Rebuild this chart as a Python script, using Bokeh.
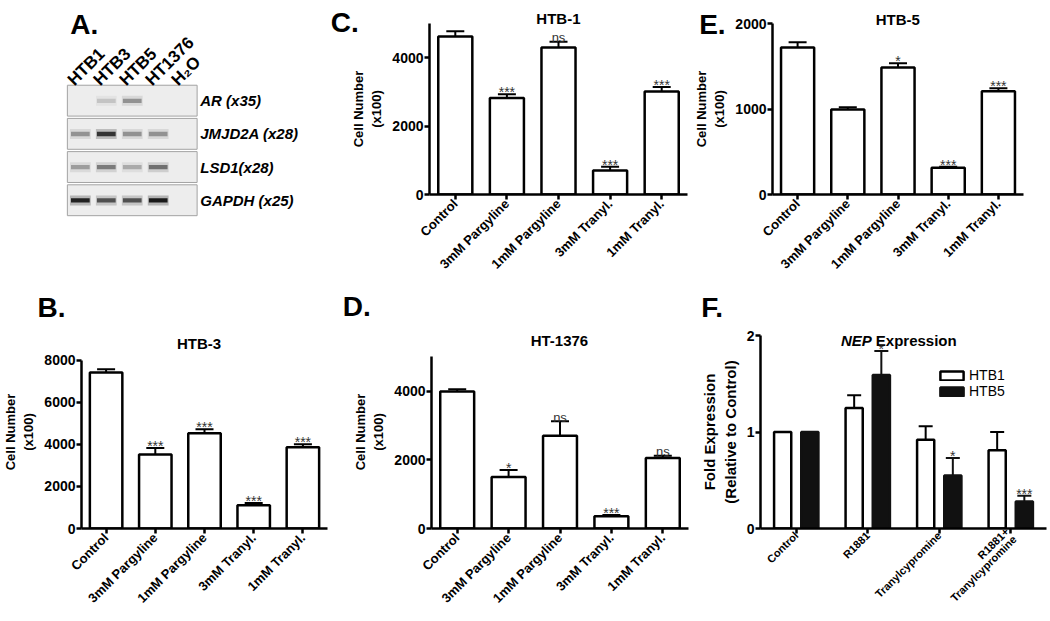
import math
from bokeh.plotting import figure
from bokeh.models import (ColumnDataSource, FactorRange, Range1d, Whisker, TeeHead,
                          Label, Legend, LegendItem, FixedTicker, Spacer)
from bokeh.layouts import row, column
from bokeh.transform import dodge
from bokeh.core.properties import value
from bokeh.embed import file_html
from bokeh.resources import INLINE

# ---------------- DATA ----------------
treatments = ["Control", "3mM Pargyline", "1mM Pargyline", "3mM Tranyl.", "1mM Tranyl."]

htb1_cells = [4620, 2820, 4300, 700, 3010]
htb1_err = [150, 110, 170, 110, 130]
htb1_sig = ["", "***", "ns", "***", "***"]

htb5_cells = [1720, 995, 1485, 312, 1208]
htb5_err = [60, 25, 50, 12, 35]
htb5_sig = ["", "", "*", "***", "***"]

htb3_cells = [7410, 3510, 4520, 1110, 3855]
htb3_err = [150, 310, 190, 100, 150]
htb3_sig = ["", "***", "***", "***", "***"]

ht1376_cells = [3990, 1500, 2700, 360, 2050]
ht1376_err = [60, 200, 420, 30, 70]
ht1376_sig = ["", "*", "ns", "***", "ns"]

nep_conditions = ["Control", "R1881", "Tranylcypromine", "R1881+\nTranylcypromine"]
nep_htb1 = [1.0, 1.25, 0.92, 0.81]
nep_htb1_err = [0.0, 0.13, 0.14, 0.19]
nep_htb5 = [1.0, 1.59, 0.55, 0.28]
nep_htb5_err = [0.0, 0.25, 0.18, 0.06]
nep_htb5_sig = ["", "*", "*", "***"]

gel_lanes = ["HTB1", "HTB3", "HTB5", "HT1376", "H\u2082O"]
gel_genes = ["AR (x35)", "JMJD2A (x28)", "LSD1(x28)", "GAPDH (x25)"]
gel_AR = [0.0, 0.15, 0.35, 0.0, 0.0]
gel_JMJD2A = [0.35, 0.8, 0.35, 0.35, 0.0]
gel_LSD1 = [0.3, 0.45, 0.25, 0.5, 0.0]
gel_GAPDH = [0.9, 0.65, 0.65, 0.95, 0.0]

# ---------------- LAYOUT HELPERS ----------------
FONT = "Liberation Sans"
REF_W, REF_H = 1050.0, 621.0
SX = 1048 / REF_W
SY = 619 / REF_H
TOP_H = 281  # height of the top row (reference px)


def sx(v):
    return int(round(v * SX))


def sy(v):
    return int(round(v * SY))


def make_panel(box, frame, xr, yr):
    x0, y0, x1, y1 = box
    fl, ft, fr, fb = frame
    p = figure(width=sx(x1) - sx(x0), height=sy(y1) - sy(y0), x_range=xr, y_range=yr,
               min_border_left=sx(fl) - sx(x0), min_border_right=sx(x1) - sx(fr),
               min_border_top=sy(ft) - sy(y0), min_border_bottom=sy(y1) - sy(fb),
               output_backend="svg", toolbar_location=None,
               background_fill_color=None, border_fill_color=None)
    p.outline_line_color = None
    p.grid.visible = False
    return p


def style_axes(p, ylabel, ylabel_size, ticks, ybounds, xlab_size="13px"):
    for ax in p.axis:
        ax.axis_line_width = 2.5
        ax.axis_line_color = "black"
        ax.major_tick_line_width = 2.5
        ax.major_tick_line_color = "black"
        ax.major_tick_in = 0
        ax.major_tick_out = 5
        ax.minor_tick_line_color = None
        ax.major_label_text_font = FONT
        ax.major_label_text_font_style = "bold"
        ax.major_label_text_color = "black"
        ax.axis_label_text_font = FONT
        ax.axis_label_text_font_style = "bold"
        ax.axis_label_text_color = "black"
    p.yaxis.major_label_text_font_size = "14px"
    p.xaxis.major_label_text_font_size = xlab_size
    p.xaxis.major_label_orientation = math.pi / 4
    p.xaxis.major_label_standoff = 2
    p.yaxis.major_label_standoff = 1
    p.yaxis.ticker = FixedTicker(ticks=ticks)
    p.yaxis.bounds = ybounds
    p.yaxis.axis_label = ylabel
    p.yaxis.axis_label_text_font_size = ylabel_size
    p.yaxis.axis_label_standoff = 5


def add_sig(p, xs, ys, sig, xspec=None):
    stars = dict(x=[], y=[], t=[])
    ns = dict(x=[], y=[], t=[])
    for x, y, s in zip(xs, ys, sig):
        if not s:
            continue
        d = stars if s.startswith("*") else ns
        d["x"].append(x)
        d["y"].append(y)
        d["t"].append(s)
    for d, off, size in ((stars, -2, "14px"), (ns, -4, "13px")):
        if d["t"]:
            p.text(x="x" if xspec is None else xspec, y="y", text="t",
                   source=ColumnDataSource(d), text_align="center",
                   text_baseline="alphabetic", y_offset=off,
                   text_font=value(FONT), text_font_size=size, text_color="#333333")


def bar_panel(box, frame, axis_top, ymax, ticks, vals, errs, sig):
    fl, ft, fr, fb = frame
    y_end = ymax * (fb - ft) / (fb - axis_top)
    xr = FactorRange(factors=treatments, range_padding=0)
    p = make_panel(box, frame, xr, Range1d(0, y_end))
    upper = [v + e for v, e in zip(vals, errs)]
    src = ColumnDataSource(dict(cat=treatments, val=vals, upper=upper))
    p.vbar(x="cat", top="val", width=0.66, source=src, fill_color="white",
           line_color="black", line_width=2.5)
    p.add_layout(Whisker(source=src, base="cat", upper="upper", lower="val",
                         dimension="height", line_width=2, line_color="black",
                         upper_head=TeeHead(size=sx(18), line_width=2, line_color="black"),
                         lower_head=None))
    add_sig(p, treatments, upper, sig)
    style_axes(p, "Cell Number\n(x100)", "13px", ticks, (0, ymax))
    return p


# ---------------- UNDERLAY: gel, panel letters, titles ----------------
under = figure(width=sx(REF_W), height=sy(REF_H), x_range=Range1d(0, REF_W),
               y_range=Range1d(REF_H, 0), min_border=0,
               x_axis_location=None, y_axis_location=None,
               output_backend="svg", toolbar_location=None,
               background_fill_color="white", border_fill_color="white")
under.outline_line_color = None
under.grid.visible = False

LANE, ROW = 26.0, 33.3          # gel lane / row pitch (reference px)
GX0, GY0 = 67.0, 85.0           # gel top-left (reference px)
under.extra_x_ranges = {"gel": Range1d(-GX0 / LANE, (REF_W - GX0) / LANE)}
under.extra_y_ranges = {"gel": Range1d((REF_H - GY0) / ROW, -GY0 / ROW)}
G = dict(x_range_name="gel", y_range_name="gel")

nrow, nlane = len(gel_genes), len(gel_lanes)
under.rect(x=[nlane / 2] * nrow, y=[i + 0.465 for i in range(nrow)], width=nlane, height=0.93,
           fill_color="#ededed", line_color="#a3a3a3", line_width=1, **G)
band_rows = [gel_AR, gel_JMJD2A, gel_LSD1, gel_GAPDH]
bx, by, ba, bh = [], [], [], []
for r, inten in enumerate(band_rows):
    for l, v in enumerate(inten):
        if v > 0:
            bx.append(l + 0.5)
            by.append(r + 0.47)
            ba.append(v)
            bh.append(0.3 * v)
under.rect(x=bx, y=by, width=0.8, height=0.3, fill_color="#222222", fill_alpha=bh,
           line_color=None, **G)
under.rect(x=bx, y=by, width=0.72, height=0.13, fill_color="#111111", fill_alpha=ba,
           line_color=None, **G)
under.text(x=[l + 0.12 for l in range(nlane)], y=[-0.08] * nlane, text=gel_lanes,
           angle=math.pi / 4, text_align="left", text_baseline="alphabetic",
           text_font=value(FONT), text_font_size="17px", text_font_style="bold",
           text_color="black", **G)
under.text(x=[nlane + 0.12] * nrow, y=[i + 0.465 for i in range(nrow)], text=gel_genes,
           text_align="left", text_baseline="middle", text_font=value(FONT),
           text_font_size="15px", text_font_style="bold italic", text_color="black", **G)


def ulabel(x, y, text, size, style="bold", align="left"):
    under.add_layout(Label(x=x, y=y, text=text, text_font=FONT, text_font_size=size,
                           text_font_style=style, text_align=align,
                           text_baseline="alphabetic", text_color="black"))


for letter, lx, ly in (("A.", 70, 24), ("C.", 331, 22), ("E.", 700, 24),
                       ("B.", 37, 308), ("D.", 343, 307), ("F.", 702, 308)):
    ulabel(lx, ly, letter, "28px")
for ttl, tx, ty in (("HTB-1", 559, 18), ("HTB-5", 899, 19), ("HTB-3", 199, 344),
                    ("HT-1376", 560, 341)):
    ulabel(tx, ty, ttl, "15px", align="center")
ulabel(873, 341, "NEP", "15px", style="bold italic", align="right")
ulabel(877, 341, "Expression", "15px", align="left")

# ---------------- PANELS C, E (top row) ----------------
pc = bar_panel((330, 0, 692, TOP_H), (430, 23, 688, 195), 23, 5000, [0, 2000, 4000],
               htb1_cells, htb1_err, htb1_sig)
pe = bar_panel((692, 0, 1050, TOP_H), (767, 23, 1025, 195), 23, 2000, [0, 1000, 2000],
               htb5_cells, htb5_err, htb5_sig)

# ---------------- PANELS B, D (bottom row) ----------------
BT, BB = 336, 530   # shared frame top / bottom of the bottom row (reference px)
pb = bar_panel((0, TOP_H, 340, 621), (70, BT, 328, BB), 360.7, 8000,
               [0, 2000, 4000, 6000, 8000], htb3_cells, htb3_err, htb3_sig)
pd = bar_panel((340, TOP_H, 692, 621), (431.7, BT, 689, BB), 357.3, 5000,
               [0, 2000, 4000], ht1376_cells, ht1376_err, ht1376_sig)

# ---------------- PANEL F ----------------
F_BOX = (692, TOP_H, 1050, 621)
F_FRAME = (761.7, BT, 1048, BB)
xrf = FactorRange(factors=nep_conditions, range_padding=0)
pf = make_panel(F_BOX, F_FRAME, xrf, Range1d(0, 2))
up1 = [v + e for v, e in zip(nep_htb1, nep_htb1_err)]
lo1 = [v - e for v, e in zip(nep_htb1, nep_htb1_err)]
up5 = [v + e for v, e in zip(nep_htb5, nep_htb5_err)]
lo5 = [v - e for v, e in zip(nep_htb5, nep_htb5_err)]
srcf = ColumnDataSource(dict(cond=nep_conditions, h1=nep_htb1, h5=nep_htb5))
OFF = 0.19
r1 = pf.vbar(x=dodge("cond", -OFF, range=xrf), top="h1", width=0.24, source=srcf,
             fill_color="white", line_color="black", line_width=2.5)
r2 = pf.vbar(x=dodge("cond", OFF, range=xrf), top="h5", width=0.24, source=srcf,
             fill_color="#111111", line_color="#111111", line_width=2.5)
keep = [e > 0 for e in nep_htb1_err]
srce = ColumnDataSource(dict(cond=[c for c, k in zip(nep_conditions, keep) if k],
                             up1=[u for u, k in zip(up1, keep) if k],
                             lo1=[u for u, k in zip(lo1, keep) if k],
                             up5=[u for u, k in zip(up5, keep) if k],
                             lo5=[u for u, k in zip(lo5, keep) if k]))
pf.add_layout(Whisker(source=srce, base=dodge("cond", -OFF, range=xrf), upper="up1", lower="lo1",
                      dimension="height", line_width=2, line_color="black",
                      upper_head=TeeHead(size=sx(14), line_width=2, line_color="black"),
                      lower_head=TeeHead(size=sx(14), line_width=2, line_color="black")))
pf.add_layout(Whisker(source=srce, base=dodge("cond", OFF, range=xrf), upper="up5", lower="lo5",
                      dimension="height", line_width=2, line_color="#111111",
                      upper_head=TeeHead(size=sx(14), line_width=2, line_color="#111111"),
                      lower_head=None))
add_sig(pf, nep_conditions, up5, nep_htb5_sig, xspec=dodge("x", OFF, range=xrf))
style_axes(pf, "Fold Expression\n(Relative to Control)", "15px", [0, 1, 2], (0, 2),
           xlab_size="11px")
pf.xaxis.major_label_text_line_height = 0.9
pf.xaxis.major_label_standoff = 0
fl, ft, fr, fb = F_FRAME
leg = Legend(items=[LegendItem(label="HTB1", renderers=[r1]),
                    LegendItem(label="HTB5", renderers=[r2])],
             location=(sx(939) - sx(fl), sy(fb) - sy(400)),
             label_text_font=FONT, label_text_font_size="14px", label_text_color="black",
             glyph_width=29, glyph_height=11, spacing=0, padding=0, margin=0,
             label_standoff=3, label_height=12, border_line_color=None,
             background_fill_alpha=0)
pf.add_layout(leg)

# ---------------- ASSEMBLY ----------------
top = row(Spacer(width=sx(330), height=sy(TOP_H)), pc, pe)
bottom = row(pb, pd, pf)
panels = column(top, bottom)
under_box = row(under, margin=(0, 0, -sy(REF_H), 0))
layout = column(under_box, panels)
open("out.html", "w").write(file_html(layout, INLINE))
